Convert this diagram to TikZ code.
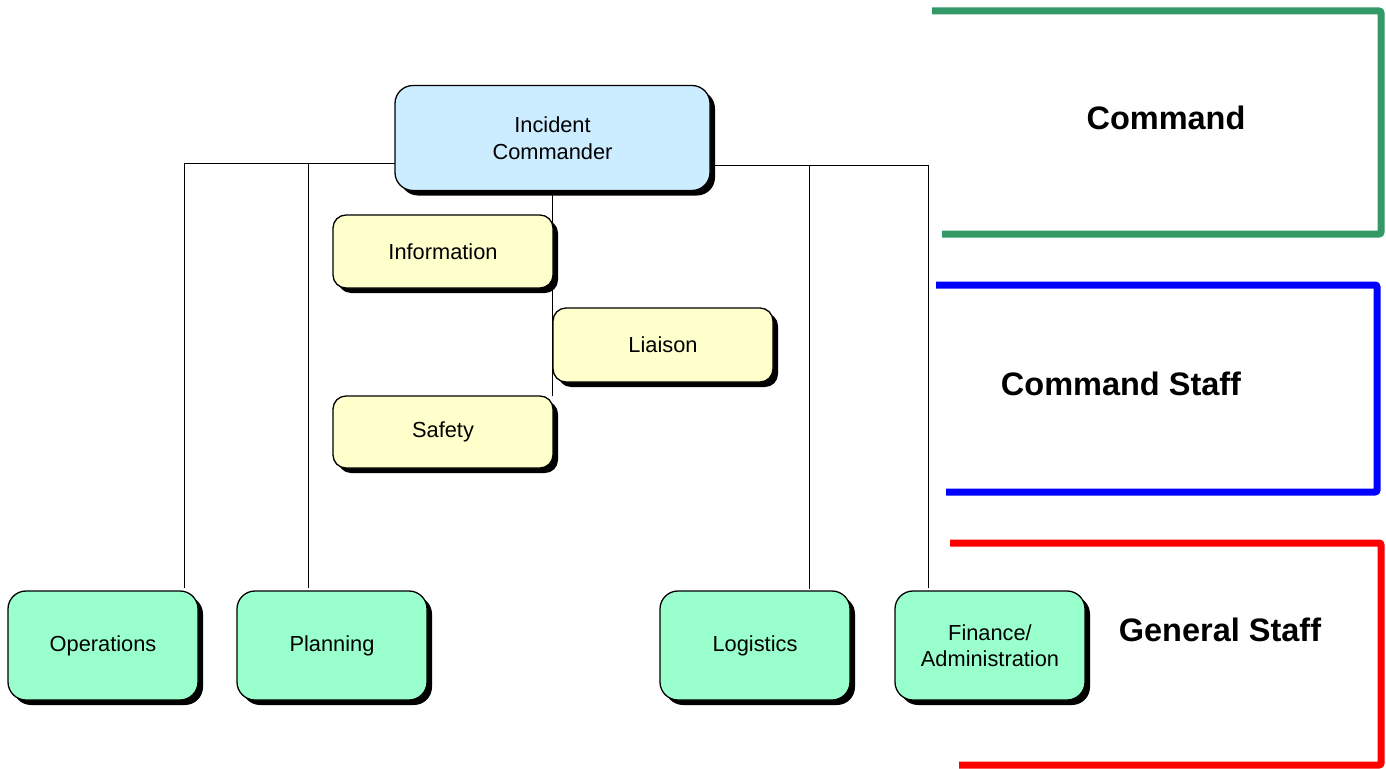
\documentclass[tikz,border=0pt]{standalone}
\usepackage{fontspec}
\setmainfont{Liberation Sans}
\usetikzlibrary{shadows,backgrounds}

\begin{document}
\begin{tikzpicture}[x=1pt, y=-1pt,
    box/.style={draw=black, line width=1.3pt, inner sep=0pt, outer sep=0pt,
        align=center, font=\fontsize{21.8}{26.5}\selectfont,
        drop shadow={shadow xshift=5pt, shadow yshift=-5pt, fill=black, opacity=1}},
    bigbox/.style={box, rounded corners=18pt, minimum width=190pt, minimum height=109pt},
    staffbox/.style={box, rounded corners=13pt, minimum width=220pt, minimum height=73pt},
    link/.style={black, line width=1pt},
    bracket/.style={line width=7pt, rounded corners=2pt},
    tag/.style={font=\bfseries\fontsize{32.5}{38}\selectfont}]
    % Colours
    \definecolor{fillBlue}{RGB}{204, 236, 255}
    \definecolor{fillYellow}{RGB}{255, 255, 204}
    \definecolor{fillGreen}{RGB}{153, 255, 204}
    \definecolor{lineGreen}{RGB}{51, 153, 102}

    \useasboundingbox (0,0) rectangle (1386,768);

    % Command
    \node[bigbox, fill=fillBlue, minimum width=315pt, minimum height=105pt] (ic) at (552.5,138) {Incident\\Commander};

    % Command staff
    \node[staffbox, fill=fillYellow] (info) at (443,251.5) {Information};
    \node[staffbox, fill=fillYellow, minimum height=74pt] (liai) at (663,345) {Liaison};
    \node[staffbox, fill=fillYellow, minimum height=72pt] (safe) at (443,432) {Safety};

    % General staff
    \node[bigbox, fill=fillGreen] (ops) at (103,645.5) {Operations};
    \node[bigbox, fill=fillGreen] (plan) at (332,645.5) {Planning};
    \node[bigbox, fill=fillGreen] (logi) at (755,645.5) {Logistics};
    \node[bigbox, fill=fillGreen] (fin) at (990,645.5) {Finance/\\Administration};

    % Lines
    \coordinate (obus) at (184,163);
    \coordinate (pbus) at (308,163);
    \coordinate (lbus) at (809,165);
    \coordinate (fbus) at (928,165);
    \begin{pgfonlayer}{background}
        \draw[link] (ic.west |- obus) -- (obus) -- ([yshift=3pt]obus |- ops.north);
        \draw[link] (pbus) -- ([yshift=3pt]pbus |- plan.north);
        \draw[link] (ic.east |- fbus) -- (fbus) -- ([yshift=3pt]fbus |- fin.north);
        \draw[link] (lbus) -- ([yshift=2pt]lbus |- logi.north);
        \draw[link] (ic.south) -- (ic.south |- safe.north);
    \end{pgfonlayer}

    % Brackets
    \draw[lineGreen, bracket] (932,11) -- (1381,11) -- (1381,234) -- (942,234);
    \draw[blue, bracket] (936,285) -- (1377,285) -- (1377,492) -- (946,492);
    \draw[red, bracket] (950,543) -- (1381,543) -- (1381,765) -- (959,765);

    \node[tag] (cmdtag) at (1166,118) {Command};
    \node[tag] (stafftag) at (1121,384) {Command Staff};
    \node[tag] (gentag) at (1220,630) {General Staff};
\end{tikzpicture}
\end{document}
